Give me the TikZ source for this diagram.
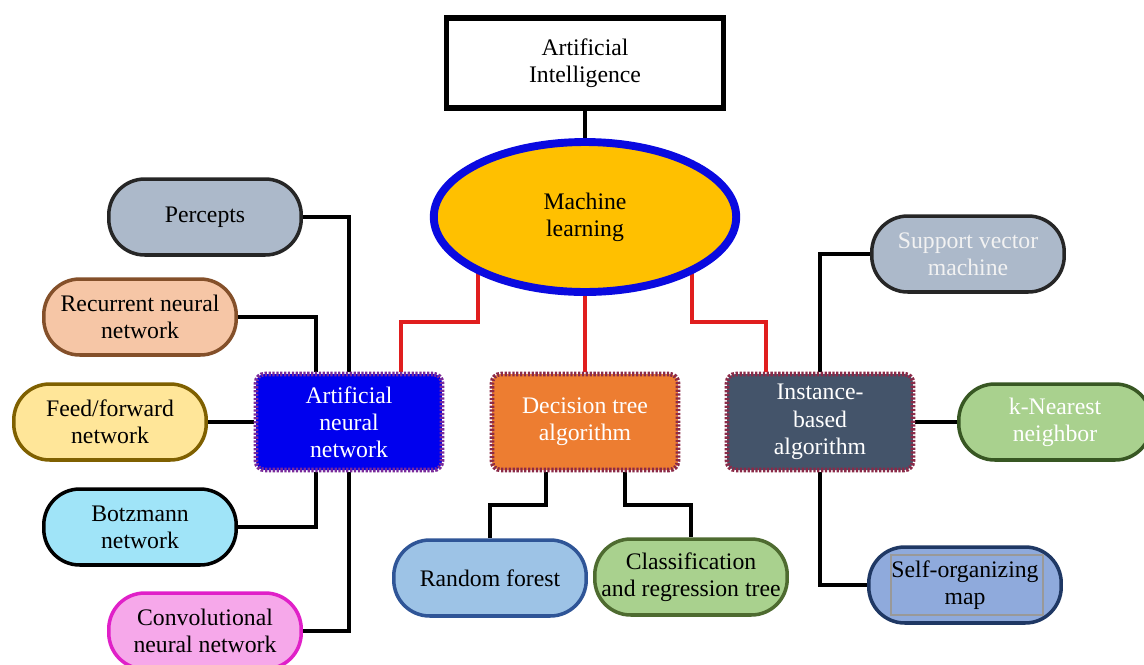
\documentclass[tikz,border=0pt]{standalone}
\usepackage{fontspec}
\setmainfont{Liberation Serif}
\usepackage{tikz}
\usetikzlibrary{positioning}
\usetikzlibrary{calc,shapes.geometric,backgrounds}
\definecolor{mlfill}{HTML}{FFC000}
\definecolor{mlblue}{HTML}{0A0AE0}
\definecolor{redline}{HTML}{E01E1E}
\definecolor{annblue}{HTML}{0000EE}
\definecolor{annborder}{HTML}{7A2A9A}
\definecolor{dtorange}{HTML}{ED7D31}
\definecolor{ibslate}{HTML}{44546A}
\definecolor{algoborder}{HTML}{8B2A48}
\definecolor{percgray}{HTML}{ACB9CA}
\definecolor{rnnpeach}{HTML}{F6C6A6}
\definecolor{rnnbrown}{HTML}{84502A}
\definecolor{ffyellow}{HTML}{FFE699}
\definecolor{ffolive}{HTML}{7F6000}
\definecolor{bmcyan}{HTML}{A0E4F8}
\definecolor{cnnpink}{HTML}{F6A8EA}
\definecolor{cnnmagenta}{HTML}{E020C8}
\definecolor{rfblue}{HTML}{9DC3E6}
\definecolor{rfborder}{HTML}{2F5597}
\definecolor{leafgreen}{HTML}{A9D18E}
\definecolor{cartborder}{HTML}{4E6B30}
\definecolor{knnborder}{HTML}{385723}
\definecolor{somblue}{HTML}{8FAADC}
\definecolor{somborder}{HTML}{1F3864}

\begin{document}
\begin{tikzpicture}[x=0.02cm, y=-0.02cm,
    font=\fontsize{13.5}{15.5}\selectfont,
    leaf/.style={draw, line width=2pt, rounded corners=0.72cm,
    minimum width=3.85cm, minimum height=1.52cm, inner xsep=2pt, align=center},
    algo/.style={draw=algoborder, line width=2.6pt, dash pattern=on 1.3pt off 0.9pt,
    rounded corners=5pt, minimum width=3.72cm, minimum height=1.92cm,
    align=center, text=white},
    wire/.style={line width=2.3pt, black},
    redwire/.style={line width=2.3pt, redline},
    ]
    \useasboundingbox (0,0) rectangle (1144,664);

    \node[draw, line width=3pt, minimum width=5.55cm, minimum height=1.8cm, align=center] (ai) at (585,63) {Artificial\\Intelligence};
    \node[ellipse, draw=mlblue, fill=mlfill, line width=4.5pt, minimum width=6.05cm, minimum height=3cm, align=center] (ml) at (585,217) {Machine\\learning};

    \node[algo, fill=annblue, draw=annborder] (ann) at (349,422) {Artificial\\neural\\network};
    \node[algo, fill=dtorange] (dt) at (585,422) {Decision tree\\algorithm};
    \node[algo, fill=ibslate] (ib) at (820,422) {Instance-\\based\\algorithm};

    \node[leaf, fill=percgray, draw=black!85] (perc) at (205,217) {Percepts};
    \node[leaf, fill=rnnpeach, draw=rnnbrown] (rnn) at (140,317) {Recurrent neural\\network};
    \node[leaf, fill=ffyellow, draw=ffolive] (ff) at (110,422) {Feed/forward\\network};
    \node[leaf, fill=bmcyan, draw=black] (bm) at (140,527) {Botzmann\\network};
    \node[leaf, fill=cnnpink, draw=cnnmagenta] (cnn) at (205,631) {Convolutional\\neural network};
    \node[leaf, fill=rfblue, draw=rfborder] (rf) at (490,578) {Random forest};
    \node[leaf, fill=leafgreen, draw=cartborder] (cart) at (691,577) {Classification\\and regression tree};
    \node[leaf, fill=percgray, draw=black!85, text=white!95!black] (svm) at (968,254) {Support vector\\machine};
    \node[leaf, fill=leafgreen, draw=knnborder, text=white] (knn) at (1055,422) {k-Nearest\\neighbor};
    \node[leaf, fill=somblue, draw=somborder] (som) at (965,585) {Self-organizing\\map};
    \draw[gray!80, line width=0.6pt] ($(som.center)+(-74,-30)$) rectangle ($(som.center)+(78,30)$);

    \begin{scope}[on background layer]
    \draw[wire] (ai) -- (ml);
    \draw[redwire] ($(ml.center)+(-107,0)$) --++(0,105) -| ($(ann.north)+(52,0)$);
    \draw[redwire] (ml) -- (dt);
    \draw[redwire] ($(ml.center)+(107,0)$) --++(0,105) -| ($(ib.north)+(-54,0)$);

    \draw[wire] (perc.east) -| (ann.north);
    \draw[wire] (rnn.east) -| ($(ann.north)+(-33,0)$);
    \draw[wire] (ff) -- (ann);
    \draw[wire] (bm.east) -| ($(ann.south)+(-33,0)$);
    \draw[wire] (cnn.east) -| (ann.south);

    \draw[wire] ($(dt.south)+(-39,0)$) --++(0,33) -| (rf.north);
    \draw[wire] ($(dt.south)+(40,0)$) --++(0,33) -| (cart.north);

    \draw[wire] (ib.north) |- (svm.west);
    \draw[wire] (ib) -- (knn);
    \draw[wire] (ib.south) |- (som.west);
    \end{scope}
\end{tikzpicture}
\end{document}
